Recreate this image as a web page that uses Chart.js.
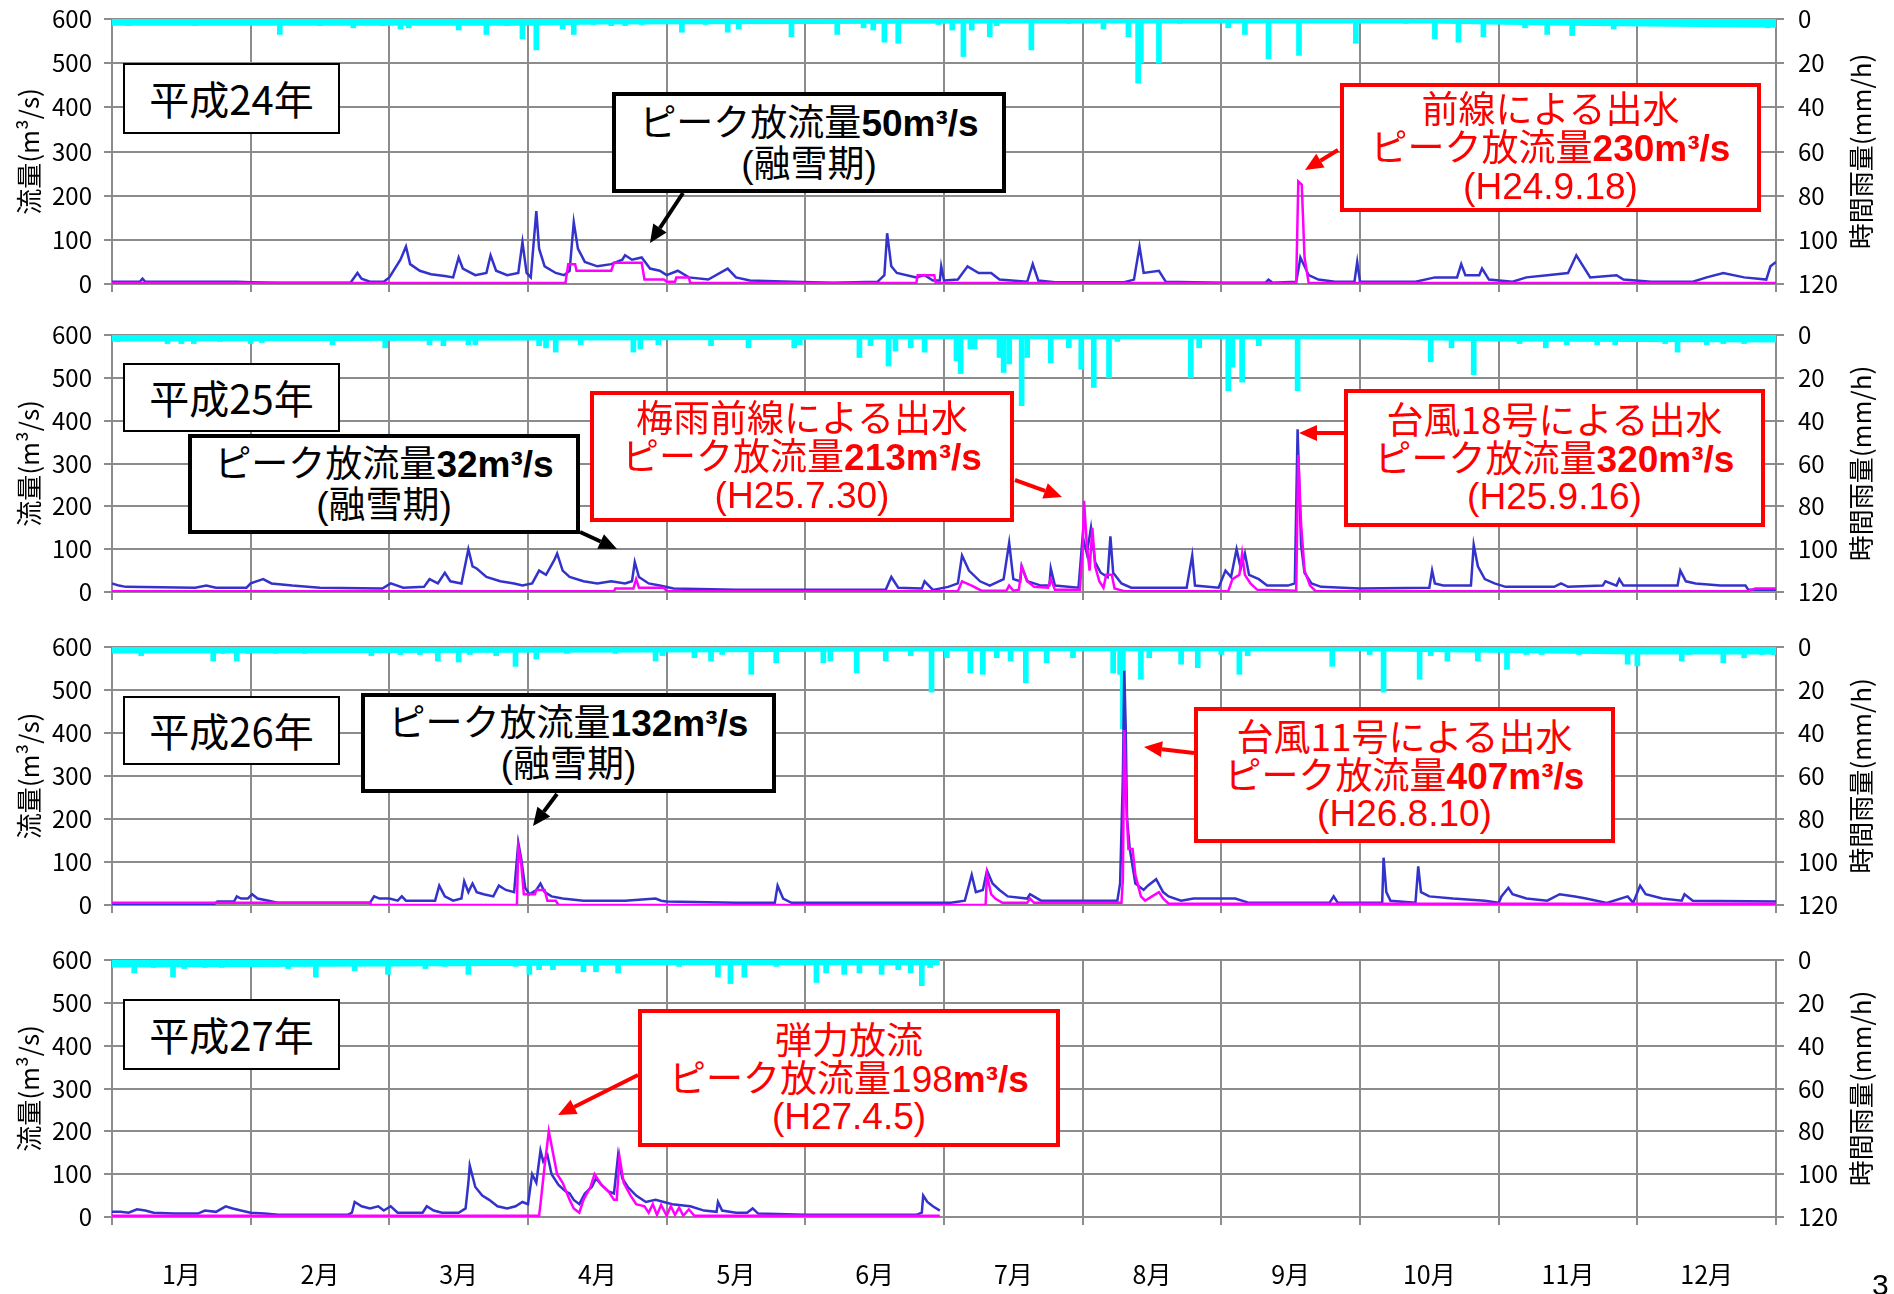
<!DOCTYPE html>
<html lang="ja">
<head>
<meta charset="utf-8">
<title>流入量・放流量・時間雨量</title>
<script src="https://cdn.jsdelivr.net/npm/chart.js@4.4.1/dist/chart.umd.min.js"></script>
<style>
  html, body { margin: 0; padding: 0; background: #fff; }
  #page { position: relative; width: 1894px; height: 1294px; overflow: hidden; background: #fff; }
  canvas { position: absolute; left: 0; }
  #arrows { position: absolute; left: 0; top: 0; }
  .box { position: absolute; box-sizing: border-box; background: #fff; display: flex; flex-direction: column;
         justify-content: center; align-items: center; font-family: "Noto Sans CJK JP", sans-serif;
         line-height: 1.02; white-space: nowrap; color: #000; }
  .year { border: 2px solid #000; font-size: 40px; }
  .peak { border: 4px solid #000; font-size: 37px; }
  .red { border: 4px solid #f00; color: #f00; font-size: 37px; }
  .n { font-family: "Liberation Sans", Arial, sans-serif; font-weight: bold; }
  .l { font-family: "Liberation Sans", Arial, sans-serif; }
  #pg { position: absolute; left: 1872px; top: 1268px; font: 30px "Liberation Sans", sans-serif; }
</style>
</head>
<body>
<div id="page">
  <canvas id="c1"></canvas>
  <canvas id="c2"></canvas>
  <canvas id="c3"></canvas>
  <canvas id="c4"></canvas>
  <svg id="arrows" width="1894" height="1294"></svg>

  <div class="box year" style="left:123px;top:63px;width:217px;height:71px">平成24年</div>
  <div class="box peak" style="left:612px;top:92px;width:394px;height:101px">
    <div>ピーク放流量<span class="n">50m³/s</span></div>
    <div><span class="l">(</span>融雪期<span class="l">)</span></div>
  </div>
  <div class="box red" style="left:1340px;top:83px;width:421px;height:129px">
    <div>前線による出水</div>
    <div>ピーク放流量<span class="n">230m³/s</span></div>
    <div class="l">(H24.9.18)</div>
  </div>

  <div class="box year" style="left:123px;top:363px;width:217px;height:69px">平成25年</div>
  <div class="box peak" style="left:188px;top:434px;width:392px;height:100px">
    <div>ピーク放流量<span class="n">32m³/s</span></div>
    <div><span class="l">(</span>融雪期<span class="l">)</span></div>
  </div>
  <div class="box red" style="left:590px;top:391px;width:424px;height:131px">
    <div>梅雨前線による出水</div>
    <div>ピーク放流量<span class="n">213m³/s</span></div>
    <div class="l">(H25.7.30)</div>
  </div>
  <div class="box red" style="left:1344px;top:389px;width:421px;height:138px">
    <div>台風18号による出水</div>
    <div>ピーク放流量<span class="n">320m³/s</span></div>
    <div class="l">(H25.9.16)</div>
  </div>

  <div class="box year" style="left:123px;top:696px;width:217px;height:69px">平成26年</div>
  <div class="box peak" style="left:361px;top:693px;width:415px;height:100px">
    <div>ピーク放流量<span class="n">132m³/s</span></div>
    <div><span class="l">(</span>融雪期<span class="l">)</span></div>
  </div>
  <div class="box red" style="left:1194px;top:707px;width:421px;height:136px">
    <div>台風11号による出水</div>
    <div>ピーク放流量<span class="n">407m³/s</span></div>
    <div class="l">(H26.8.10)</div>
  </div>

  <div class="box year" style="left:123px;top:999px;width:217px;height:71px">平成27年</div>
  <div class="box red" style="left:638px;top:1009px;width:422px;height:138px">
    <div>弾力放流</div>
    <div>ピーク放流量<span class="l">198</span><span class="n">m³/s</span></div>
    <div class="l">(H27.4.5)</div>
  </div>

  <div id="pg">3</div>
</div>

<script>
// x values are positions in months (0 = 1月1日, 12 = 12月31日)
const monthLabels = ['1月', '2月', '3月', '4月', '5月', '6月', '7月', '8月', '9月', '10月', '11月', '12月'];

// 平成24年
const p1Inflow = [[0,5],[0.2,5],[0.22,12],[0.24,5],[0.5,5],[0.9,5],[1.0,4],[1.2,3],[1.5,3],[1.72,3],[1.77,25],[1.8,12],[1.86,5],[1.96,5],[2.0,15],[2.08,55],[2.12,85],[2.15,45],[2.22,30],[2.3,22],[2.4,18],[2.46,15],[2.5,60],[2.53,35],[2.62,20],[2.7,25],[2.73,65],[2.77,30],[2.85,20],[2.93,25],[2.96,95],[2.99,25],[3.02,15],[3.06,165],[3.08,80],[3.12,40],[3.2,25],[3.26,20],[3.3,30],[3.33,140],[3.36,80],[3.41,50],[3.5,40],[3.6,45],[3.68,55],[3.7,65],[3.75,55],[3.82,60],[3.88,35],[3.95,30],[4.0,20],[4.08,30],[4.16,15],[4.3,10],[4.44,35],[4.5,15],[4.6,8],[4.9,5],[5.2,3],[5.52,5],[5.57,20],[5.59,115],[5.62,40],[5.66,25],[5.8,15],[5.86,20],[5.92,8],[5.97,8],[5.98,40],[6.0,8],[6.1,10],[6.17,40],[6.25,25],[6.34,25],[6.4,10],[6.6,5],[6.64,45],[6.68,8],[6.8,4],[7.3,4],[7.37,10],[7.41,85],[7.44,25],[7.55,30],[7.6,5],[8.0,3],[8.32,3],[8.34,10],[8.37,3],[8.54,5],[8.56,40],[8.57,60],[8.6,40],[8.63,20],[8.7,10],[8.82,5],[8.96,5],[8.98,50],[9.0,5],[9.4,5],[9.54,15],[9.7,15],[9.73,45],[9.76,20],[9.86,20],[9.88,35],[9.93,10],[10.1,5],[10.2,15],[10.35,20],[10.5,25],[10.56,65],[10.61,40],[10.66,15],[10.85,20],[10.9,10],[11.1,5],[11.4,5],[11.5,15],[11.62,25],[11.77,15],[11.93,10],[11.96,40],[12,50]];
const p1Outflow = [[0,2],[3.27,2],[3.29,45],[3.34,45],[3.35,30],[3.6,30],[3.62,48],[3.82,48],[3.84,10],[3.98,10],[4.0,5],[4.06,5],[4.07,15],[4.16,15],[4.17,2],[5.8,2],[5.81,20],[5.93,20],[5.94,2],[8.54,2],[8.555,232],[8.58,225],[8.6,60],[8.63,2],[12,2]];
const p1Rain = [[0.12,3],[0.4,2.5],[0.6,3],[1.21,7],[1.5,3],[1.74,4],[1.95,3],[2.08,4.5],[2.14,4],[2.5,5],[2.7,7],[2.85,3],[2.96,9],[3.06,14],[3.25,4.5],[3.33,7],[3.47,2.5],[3.6,3],[3.7,3],[3.82,2.5],[4.11,6],[4.28,2.5],[4.44,6],[4.52,4.5],[4.86,2],[4.9,8],[5.23,7],[5.42,4],[5.49,5],[5.57,10.5],[5.67,11],[5.96,2.5],[6.06,5],[6.14,17],[6.2,5],[6.33,8],[6.38,3],[6.63,14],[6.9,2],[7.15,4.5],[7.33,8],[7.4,29],[7.42,20],[7.55,20],[7.7,2],[8.05,4],[8.17,7],[8.34,18],[8.56,16.5],[8.97,11],[9.33,2],[9.54,9],[9.71,10.5],[9.89,8],[10.19,4],[10.35,7],[10.53,7.5],[10.69,3],[10.83,4.5],[11.06,3],[11.3,2.5],[11.5,3],[11.72,2.5],[11.94,4]];
const p1RainBase = [[0,3],[3,3],[3.5,2.5],[6.5,2],[9.5,2],[10.5,3],[12,4]];

// 平成25年
const p2Inflow = [[0,20],[0.05,15],[0.1,12],[0.6,10],[0.68,15],[0.75,10],[0.97,10],[1.0,20],[1.09,30],[1.15,20],[1.3,15],[1.5,10],[1.95,8],[2.01,20],[2.1,10],[2.25,12],[2.29,30],[2.35,20],[2.4,45],[2.44,25],[2.52,20],[2.57,100],[2.6,60],[2.63,55],[2.7,35],[2.8,25],[2.9,20],[2.96,15],[3.03,20],[3.08,50],[3.13,40],[3.19,75],[3.21,90],[3.25,50],[3.3,35],[3.4,25],[3.5,20],[3.6,25],[3.7,20],[3.75,25],[3.77,70],[3.8,35],[3.87,20],[3.95,15],[4.05,8],[4.5,5],[5.58,5],[5.62,35],[5.67,10],[5.84,8],[5.86,25],[5.92,5],[6.03,12],[6.1,20],[6.13,85],[6.18,50],[6.26,25],[6.33,15],[6.43,30],[6.47,115],[6.5,30],[6.55,25],[6.56,60],[6.6,25],[6.7,15],[6.76,15],[6.77,55],[6.8,15],[6.97,10],[7.0,130],[7.03,90],[7.06,150],[7.09,70],[7.13,45],[7.18,35],[7.2,130],[7.22,45],[7.28,20],[7.35,10],[7.75,10],[7.79,85],[7.81,15],[7.98,10],[8.03,50],[8.07,35],[8.11,100],[8.14,55],[8.17,90],[8.2,40],[8.27,30],[8.33,15],[8.48,15],[8.53,20],[8.55,380],[8.575,110],[8.6,45],[8.65,20],[8.72,12],[9.0,8],[9.5,10],[9.52,50],[9.54,20],[9.6,15],[9.8,15],[9.82,110],[9.85,60],[9.9,30],[9.97,20],[10.05,12],[10.4,12],[10.45,20],[10.5,12],[10.75,15],[10.77,25],[10.85,15],[10.87,30],[10.9,15],[11.29,15],[11.31,50],[11.35,25],[11.42,20],[11.6,15],[11.78,15],[11.8,5],[12,5]];
const p2Outflow = [[0,2],[3.62,2],[3.63,8],[3.76,8],[3.78,30],[3.8,10],[3.98,10],[4.0,2],[6.1,2],[6.13,25],[6.2,15],[6.27,3],[6.45,3],[6.47,15],[6.5,3],[6.54,5],[6.56,60],[6.6,25],[6.65,12],[6.75,10],[6.77,30],[6.8,5],[6.98,5],[7.0,100],[7.01,213],[7.03,110],[7.05,50],[7.07,150],[7.09,60],[7.12,25],[7.15,10],[7.17,40],[7.21,40],[7.23,8],[7.3,2],[8.05,2],[8.08,30],[8.13,40],[8.15,90],[8.17,40],[8.21,20],[8.26,5],[8.54,3],[8.555,320],[8.575,160],[8.6,50],[8.64,15],[8.68,2],[11.8,2],[11.85,8],[12,8]];
const p2Rain = [[0.04,3],[0.4,4],[0.5,4],[0.59,4],[0.78,3],[1.0,4],[1.08,3.5],[1.59,4.5],[1.97,6],[2.29,4.5],[2.39,5],[2.57,4.5],[2.62,4.5],[3.08,5],[3.13,6],[3.2,8],[3.38,4.5],[3.76,8],[3.81,6.5],[3.94,4.5],[4.32,5],[4.59,6],[4.92,6],[4.96,4.5],[5.39,10.5],[5.47,5],[5.6,14.5],[5.65,7.5],[5.76,6],[5.86,8],[6.09,12],[6.12,18],[6.19,6.5],[6.22,6.5],[6.4,10.5],[6.43,17.5],[6.47,13.5],[6.56,33],[6.6,10.5],[6.77,13],[6.9,6],[6.99,16],[7.08,24.5],[7.19,20],[7.25,3],[7.78,20],[7.84,6],[8.05,26],[8.08,15],[8.15,22],[8.27,5],[8.55,26],[9.51,12.5],[9.66,6],[9.82,18.5],[10.01,2.5],[10.15,4],[10.34,6],[10.49,4.5],[10.71,4.5],[10.84,4.5],[11.2,4],[11.29,8],[11.5,4.5],[11.62,4],[11.77,4],[11.99,2.5]];
const p2RainBase = [[0,3],[4,2.5],[6,2],[9,2],[10,3],[12,3.5]];

// 平成26年
const p3Inflow = [[0,3],[0.74,3],[0.76,8],[0.88,8],[0.9,20],[0.93,15],[0.98,15],[1.01,25],[1.05,15],[1.13,10],[1.2,5],[1.86,5],[1.89,20],[1.93,15],[2.0,15],[2.06,10],[2.09,20],[2.12,10],[2.33,10],[2.36,45],[2.4,20],[2.46,10],[2.52,15],[2.54,55],[2.57,30],[2.6,50],[2.63,30],[2.68,25],[2.75,20],[2.79,45],[2.84,35],[2.9,30],[2.93,145],[2.95,110],[2.98,40],[3.01,25],[3.06,35],[3.09,50],[3.12,30],[3.17,20],[3.25,15],[3.4,10],[3.7,10],[3.92,15],[3.96,10],[4.0,8],[4.5,5],[4.78,5],[4.8,45],[4.84,15],[4.9,5],[6.05,5],[6.15,10],[6.2,70],[6.23,30],[6.28,35],[6.31,80],[6.35,50],[6.4,35],[6.46,20],[6.6,15],[6.62,25],[6.7,10],[7.25,10],[7.27,50],[7.29,300],[7.3,545],[7.31,420],[7.32,200],[7.34,130],[7.38,50],[7.44,35],[7.47,45],[7.53,60],[7.58,30],[7.62,20],[7.71,10],[7.8,15],[8.1,15],[8.2,5],[8.78,5],[8.81,20],[8.84,5],[9.16,5],[9.17,110],[9.19,30],[9.22,10],[9.4,5],[9.42,90],[9.44,30],[9.5,20],[9.67,15],[9.9,10],[10.0,5],[10.02,20],[10.07,40],[10.1,25],[10.2,15],[10.35,10],[10.44,25],[10.55,20],[10.63,15],[10.78,5],[10.93,20],[10.97,5],[11.02,45],[11.06,25],[11.18,15],[11.32,10],[11.34,25],[11.4,10],[12,8]];
const p3Outflow = [[0,5],[1.86,5],[1.87,0],[2.92,0],[2.93,135],[2.95,100],[2.97,25],[3.05,25],[3.06,35],[3.12,35],[3.14,10],[3.2,10],[3.22,0],[6.3,0],[6.31,70],[6.34,25],[6.37,15],[6.42,5],[6.6,5],[6.62,15],[6.65,5],[7.28,5],[7.29,60],[7.3,407],[7.315,230],[7.33,130],[7.36,130],[7.38,70],[7.42,20],[7.45,10],[7.5,20],[7.55,30],[7.58,15],[7.62,3],[12,3]];
const p3Rain = [[0.21,4],[0.5,2.5],[0.73,6.5],[0.8,3],[0.9,6.5],[0.98,3],[1.18,3],[1.39,3],[1.87,4],[2.08,3.5],[2.22,3.5],[2.35,6.5],[2.5,7],[2.58,3.5],[2.77,4],[2.91,9],[3.06,5.5],[3.28,3],[3.63,3],[3.92,6.5],[3.97,4],[4.2,5],[4.32,6.5],[4.4,3.5],[4.61,12.7],[4.79,7.3],[5.13,7.3],[5.18,6.5],[5.37,12],[5.58,6.5],[5.76,4],[5.91,21],[6.02,5],[6.19,12],[6.28,12.7],[6.38,5],[6.48,6.5],[6.59,16.6],[6.74,7.3],[6.93,5],[7.22,12],[7.27,12.7],[7.29,38],[7.42,15],[7.48,5],[7.71,8],[7.83,9.6],[8.0,3.5],[8.13,12.7],[8.19,4],[8.8,9],[9.07,3.5],[9.17,21],[9.43,15],[9.51,4],[9.63,6.5],[9.85,6.5],[10.06,10.4],[10.2,3.5],[10.31,3.5],[10.58,3.5],[10.93,8],[11.0,8.8],[11.09,2.5],[11.32,6.5],[11.37,3.5],[11.62,7.3],[11.77,5],[11.9,3.5],[11.98,3.5]];
const p3RainBase = [[0,3],[4,2.5],[6,2],[9,2],[11,3.5],[12,3.5]];

// 平成27年
const p4Inflow = [[0,12],[0.06,12],[0.12,10],[0.18,18],[0.24,15],[0.3,10],[0.45,8],[0.62,8],[0.67,15],[0.75,12],[0.82,25],[0.87,20],[0.93,15],[1.0,10],[1.1,8],[1.2,5],[1.7,5],[1.73,10],[1.75,35],[1.8,25],[1.86,20],[1.92,25],[1.96,15],[2.01,25],[2.06,10],[2.24,10],[2.27,25],[2.32,15],[2.38,10],[2.5,10],[2.55,20],[2.57,80],[2.58,120],[2.62,70],[2.67,50],[2.72,40],[2.78,25],[2.85,20],[2.91,25],[2.96,35],[3.0,30],[3.03,100],[3.06,80],[3.09,155],[3.11,130],[3.14,145],[3.17,100],[3.22,75],[3.27,60],[3.3,55],[3.33,40],[3.37,30],[3.41,55],[3.46,70],[3.49,90],[3.53,75],[3.58,60],[3.62,55],[3.65,145],[3.68,90],[3.72,70],[3.78,50],[3.85,35],[3.92,40],[4.04,30],[4.17,25],[4.27,15],[4.36,12],[4.37,35],[4.4,15],[4.5,10],[4.58,10],[4.62,20],[4.66,8],[5.0,5],[5.8,5],[5.84,10],[5.85,50],[5.88,35],[5.92,25],[5.97,15]];
const p4Outflow = [[0,3],[3.08,3],[3.09,30],[3.12,120],[3.15,200],[3.18,150],[3.21,100],[3.25,80],[3.3,40],[3.33,20],[3.37,10],[3.4,40],[3.45,70],[3.48,100],[3.53,75],[3.58,60],[3.62,40],[3.64,40],[3.66,140],[3.69,80],[3.74,50],[3.78,30],[3.84,25],[3.87,10],[3.9,30],[3.93,5],[3.96,28],[4.0,3],[4.03,25],[4.06,5],[4.09,22],[4.12,3],[4.16,18],[4.2,3],[5.97,3]];
const p4Rain = [[0.16,6],[0.3,3.5],[0.44,8],[0.52,4],[0.67,3.5],[0.79,3.5],[0.91,2.5],[1.27,4],[1.47,8],[1.75,5],[1.99,6.7],[2.26,4],[2.4,3],[2.57,6.7],[2.91,3],[3.01,6.7],[3.08,4.5],[3.18,4.5],[3.4,5.5],[3.49,5.5],[3.65,6],[4.09,3],[4.37,8],[4.46,11],[4.56,8],[4.79,3],[5.08,10.5],[5.15,6],[5.28,6.7],[5.39,6],[5.55,6.7],[5.67,4.5],[5.76,6],[5.84,12],[5.9,3.5]];
const p4RainBase = [[0,3.5],[2,3],[4,2.5],[5.97,2.5]];

const FONT = '"Noto Sans CJK JP", "Noto Sans", sans-serif';
const GRID = '#8c8c8c';
const PLOT_LEFT = 112;
const PLOT_RIGHT = 1776;
const MONTH_W = (PLOT_RIGHT - PLOT_LEFT) / 12;

const pts = a => a.map(([x, y]) => ({ x, y }));

const axisTitles = {
    id: 'axisTitles',
    afterDraw(chart) {
        const { ctx, chartArea } = chart;
        const cy = (chartArea.top + chartArea.bottom) / 2;
        ctx.save();
        ctx.font = '26px ' + FONT;
        ctx.fillStyle = '#000';
        ctx.textAlign = 'center';
        ctx.textBaseline = 'middle';
        [[29, '流量(m³/s)'], [1861, '時間雨量(mm/h)']].forEach(([x, t]) => {
            ctx.save();
            ctx.translate(x, cy);
            ctx.rotate(-Math.PI / 2);
            ctx.fillText(t, 0, 0);
            ctx.restore();
        });
        ctx.restore();
    }
};

const panels = [
    { id: 'c1', top: 0, height: 310, padTop: 19, xH: 26, inflow: p1Inflow, outflow: p1Outflow, rain: p1Rain, base: p1RainBase, months: false },
    { id: 'c2', top: 310, height: 310, padTop: 25, xH: 28, inflow: p2Inflow, outflow: p2Outflow, rain: p2Rain, base: p2RainBase, months: false },
    { id: 'c3', top: 620, height: 320, padTop: 27, xH: 35, inflow: p3Inflow, outflow: p3Outflow, rain: p3Rain, base: p3RainBase, months: false },
    { id: 'c4', top: 940, height: 354, padTop: 20, xH: 77, inflow: p4Inflow, outflow: p4Outflow, rain: p4Rain, base: p4RainBase, months: true }
];

// fixed axis box sizes so the plot area lines up with the reference
const fixY = w => s => { s.width = w; s.paddingTop = 0; s.paddingBottom = 0; };

function makeChart(p) {
    const cv = document.getElementById(p.id);
    cv.width = 1894;
    cv.height = p.height;
    cv.style.top = p.top + 'px';
    return new Chart(cv, {
        type: 'line',
        data: {
            datasets: [
                { label: '放流量', data: pts(p.outflow), borderColor: '#ff00ff', borderWidth: 2.5, order: 1, yAxisID: 'y' },
                { label: '流入量', data: pts(p.inflow), borderColor: '#3333cc', borderWidth: 2.5, order: 2, yAxisID: 'y' },
                { type: 'bar', label: '時間雨量', data: pts(p.rain), backgroundColor: '#00ffff', barThickness: 5, grouped: false, order: 3, yAxisID: 'yR' },
                { label: '時間雨量(弱)', data: pts(p.base), backgroundColor: '#00ffff', borderWidth: 0, fill: 'origin', order: 4, yAxisID: 'yR' }
            ]
        },
        options: {
            responsive: false,
            animation: false,
            events: [],
            layout: { padding: { top: p.padTop, bottom: 0, left: 0, right: 0 } },
            elements: { point: { radius: 0 }, line: { tension: 0 } },
            plugins: { legend: { display: false }, tooltip: { enabled: false } },
            scales: {
                x: {
                    type: 'linear', min: 0, max: 12, offset: false,
                    grid: { color: GRID, lineWidth: 2, offset: false, tickLength: 8 },
                    border: { color: GRID, width: 2 },
                    ticks: {
                        stepSize: 1, autoSkip: false, maxRotation: 0, display: p.months,
                        labelOffset: MONTH_W / 2, padding: 34, color: '#000',
                        font: { size: 25, family: FONT },
                        callback: (v, i) => monthLabels[i] || ''
                    },
                    afterFit: s => { s.height = p.xH; }
                },
                y: {
                    position: 'left', min: 0, max: 600,
                    grid: { color: GRID, lineWidth: 2, tickLength: 8 },
                    border: { color: GRID, width: 2 },
                    ticks: { stepSize: 100, padding: 12, color: '#000', font: { size: 24, family: FONT } },
                    afterFit: fixY(PLOT_LEFT)
                },
                yR: {
                    position: 'right', reverse: true, min: 0, max: 120,
                    grid: { drawOnChartArea: false, color: GRID, lineWidth: 2, tickLength: 8 },
                    border: { color: GRID, width: 2 },
                    ticks: { stepSize: 20, padding: 14, color: '#000', font: { size: 24, family: FONT } },
                    afterFit: fixY(1894 - PLOT_RIGHT)
                }
            }
        },
        plugins: [axisTitles]
    });
}

// annotation arrows (page pixels): start on box edge, tip near the peak
const arrows = [
    { from: [683, 193], to: [650, 243], color: '#000' },
    { from: [1338, 150], to: [1305, 170], color: '#f00' },
    { from: [580, 532], to: [617, 549], color: '#000' },
    { from: [1015, 480], to: [1062, 497], color: '#f00' },
    { from: [1344, 433], to: [1299, 433], color: '#f00' },
    { from: [557, 794], to: [533, 826], color: '#000' },
    { from: [1194, 753], to: [1144, 747], color: '#f00' },
    { from: [638, 1075], to: [558, 1115], color: '#f00' }
];

function drawArrows() {
    const svg = document.getElementById('arrows');
    const ns = 'http://www.w3.org/2000/svg';
    arrows.forEach(a => {
        const [x1, y1] = a.from;
        const [x2, y2] = a.to;
        const ang = Math.atan2(y2 - y1, x2 - x1);
        const hl = 18, hw = 8;
        const bx = x2 - hl * Math.cos(ang), by = y2 - hl * Math.sin(ang);
        const line = document.createElementNS(ns, 'line');
        line.setAttribute('x1', x1); line.setAttribute('y1', y1);
        line.setAttribute('x2', bx); line.setAttribute('y2', by);
        line.setAttribute('stroke', a.color);
        line.setAttribute('stroke-width', 4);
        svg.appendChild(line);
        const head = document.createElementNS(ns, 'polygon');
        const px = -Math.sin(ang) * hw, py = Math.cos(ang) * hw;
        head.setAttribute('points', `${x2},${y2} ${bx + px},${by + py} ${bx - px},${by - py}`);
        head.setAttribute('fill', a.color);
        svg.appendChild(head);
    });
}

panels.forEach(makeChart);
drawArrows();
</script>
</body>
</html>
